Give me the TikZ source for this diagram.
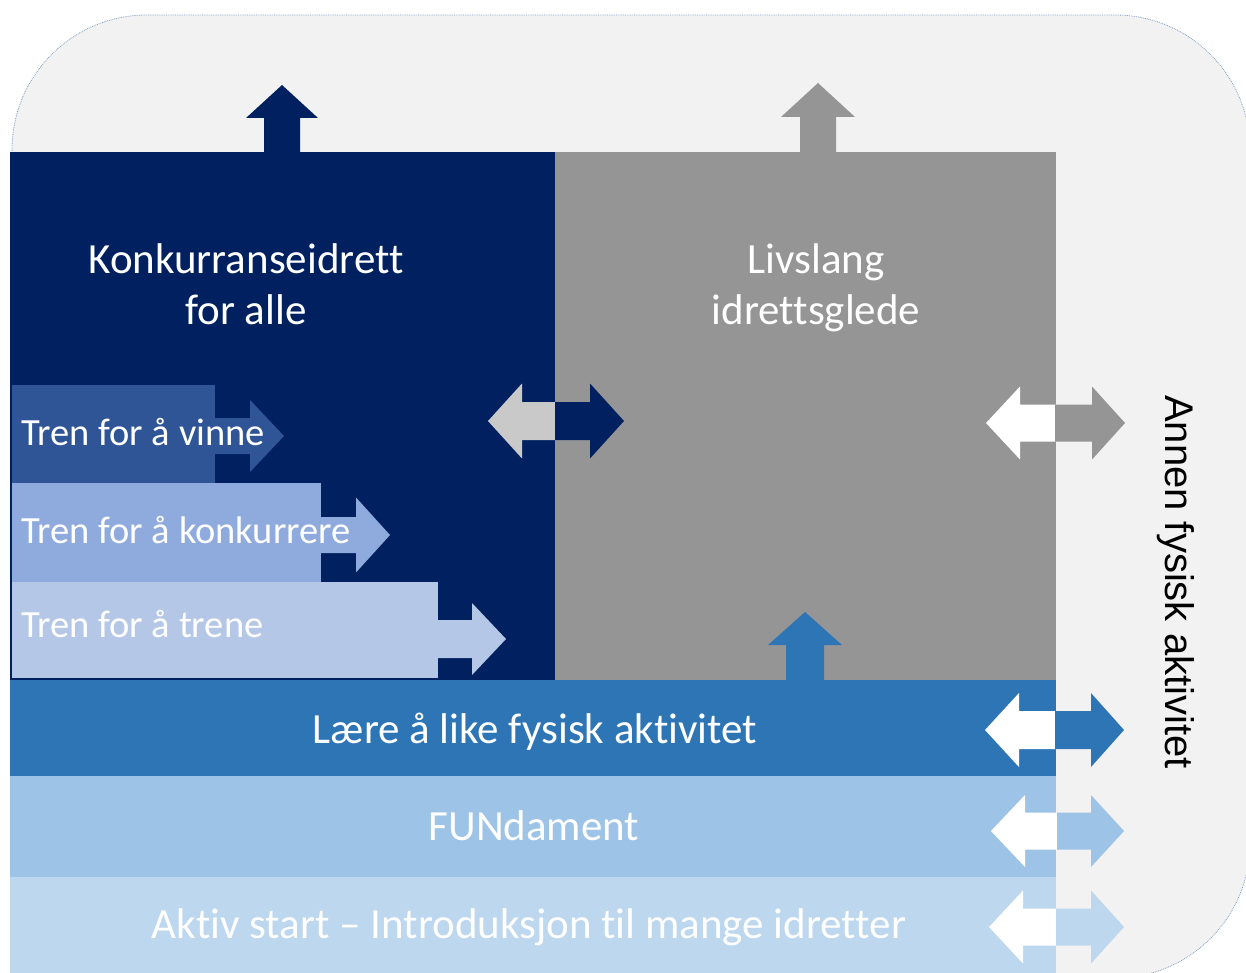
\documentclass[tikz,border=0pt]{standalone}
\usepackage{fontspec}
\setmainfont{Carlito}[Ligatures=NoCommon]
\newfontfamily\arialfont{Liberation Sans}
\usetikzlibrary{arrows.meta}

\definecolor{bgpanel}{HTML}{F2F2F2}
\definecolor{bgborder}{HTML}{7F9CC0}
\definecolor{navybox}{HTML}{002060}
\definecolor{greybox}{HTML}{959595}
\definecolor{splitgrey}{HTML}{C9C9C9}
\definecolor{vinne}{HTML}{2F5597}
\definecolor{konk}{HTML}{8FAADC}
\definecolor{trene}{HTML}{B4C7E7}
\definecolor{laere}{HTML}{2E75B6}
\definecolor{fund}{HTML}{9DC3E6}
\definecolor{aktiv}{HTML}{BDD7EE}

\begin{document}
\begin{tikzpicture}[x=1pt, y=-1pt,
  title/.style={text=white, align=center, inner sep=0pt, font=\fontsize{43}{51}\selectfont},
  tren/.style={text=white, inner sep=0pt, anchor=base west, font=\fontsize{38.5}{46}\selectfont},
  band/.style={text=white, inner sep=0pt, anchor=base, font=\fontsize{43}{50}\selectfont}]

  %% block arrows: colour, x start, x head, x tip, y, shaft, head
  \newcommand\harr[7]{\fill[#1] (#2,#5-#6) -- (#3,#5-#6) -- (#3,#5-#7) -- (#4,#5)
    -- (#3,#5+#7) -- (#3,#5+#6) -- (#2,#5+#6) -- cycle;}
  %% colour, y start, y head, y tip, x, shaft, head
  \newcommand\varr[7]{\fill[#1] (#5-#6,#2) -- (#5-#6,#3) -- (#5-#7,#3) -- (#5,#4)
    -- (#5+#7,#3) -- (#5+#6,#3) -- (#5+#6,#2) -- cycle;}

  \useasboundingbox (0,0) rectangle (1246,973);

  % panel
  \draw[fill=bgpanel, draw=bgborder, densely dotted, line width=0.8pt,
    rounded corners=135pt] (12,15) rectangle (1250,978);

  % the two big boxes
  \fill[navybox] (10,152) rectangle (556,680);
  \fill[greybox] (555,152) rectangle (1056,680);
  \varr{navybox}{153}{118}{85}{282}{18}{36}
  \varr{greybox}{153}{117}{83}{818}{18}{37}

  % steps inside
  \fill[vinne] (12,385) rectangle (215,483);
  \harr{vinne}{214}{250}{284}{436}{18}{36}
  \fill[konk] (12,483) rectangle (321,582);
  \harr{konk}{320}{356}{390}{535}{18}{37.5}
  \fill[trene] (12,582) rectangle (438,678);
  \harr{trene}{437}{472}{506}{639}{19}{36}

  \harr{splitgrey}{556}{522}{488}{421}{19}{37.5}
  \harr{navybox}{555}{590}{624}{421}{19}{37.5}
  \harr{white}{1056}{1020}{986}{423}{18.5}{36.5}
  \harr{greybox}{1055}{1092}{1125}{423}{18.5}{36.5}

  % bands
  \fill[laere] (10,680) rectangle (1056,776);
  \fill[fund] (10,776) rectangle (1056,877);
  \fill[aktiv] (10,877) rectangle (1056,980);
  \varr{laere}{681}{645}{612}{805}{19}{37}

  \harr{white}{1056}{1019}{985}{730}{19}{37}
  \harr{laere}{1055}{1091}{1124}{730}{19}{37}
  \harr{white}{1057}{1025}{991}{831}{18.5}{36}
  \harr{fund}{1057}{1091}{1124}{831}{18.5}{36}
  \harr{white}{1056}{1023}{989}{927}{18.5}{36.5}
  \harr{aktiv}{1056}{1091}{1124}{927}{18.5}{36.5}

  % texts
  \node[title] (konkurranse) at (246,284) {Konkurranseidrett\\for alle};
  \node[title] (livslang) at (816,288) {Livslang\\idrettsglede};
  \node[tren] (tvinne) at (21,445) {Tren for å vinne};
  \node[tren] (tkonk) at (21,543) {Tren for å konkurrere};
  \node[tren] (ttrene) at (21,637) {Tren for å trene};
  \node[band] (tlaere) at (535,743) {Lære å like fysisk aktivitet};
  \node[band] (tfund) at (534,840) {FUNdament};
  \node[band] (taktiv) at (529,938) {Aktiv start – Introduksjon til mange idretter};
  \node[rotate=-90, anchor=base, inner sep=0pt,
    font=\arialfont\fontsize{40}{48}\selectfont] (annen) at (1165,582) {Annen fysisk aktivitet};

\end{tikzpicture}
\end{document}
